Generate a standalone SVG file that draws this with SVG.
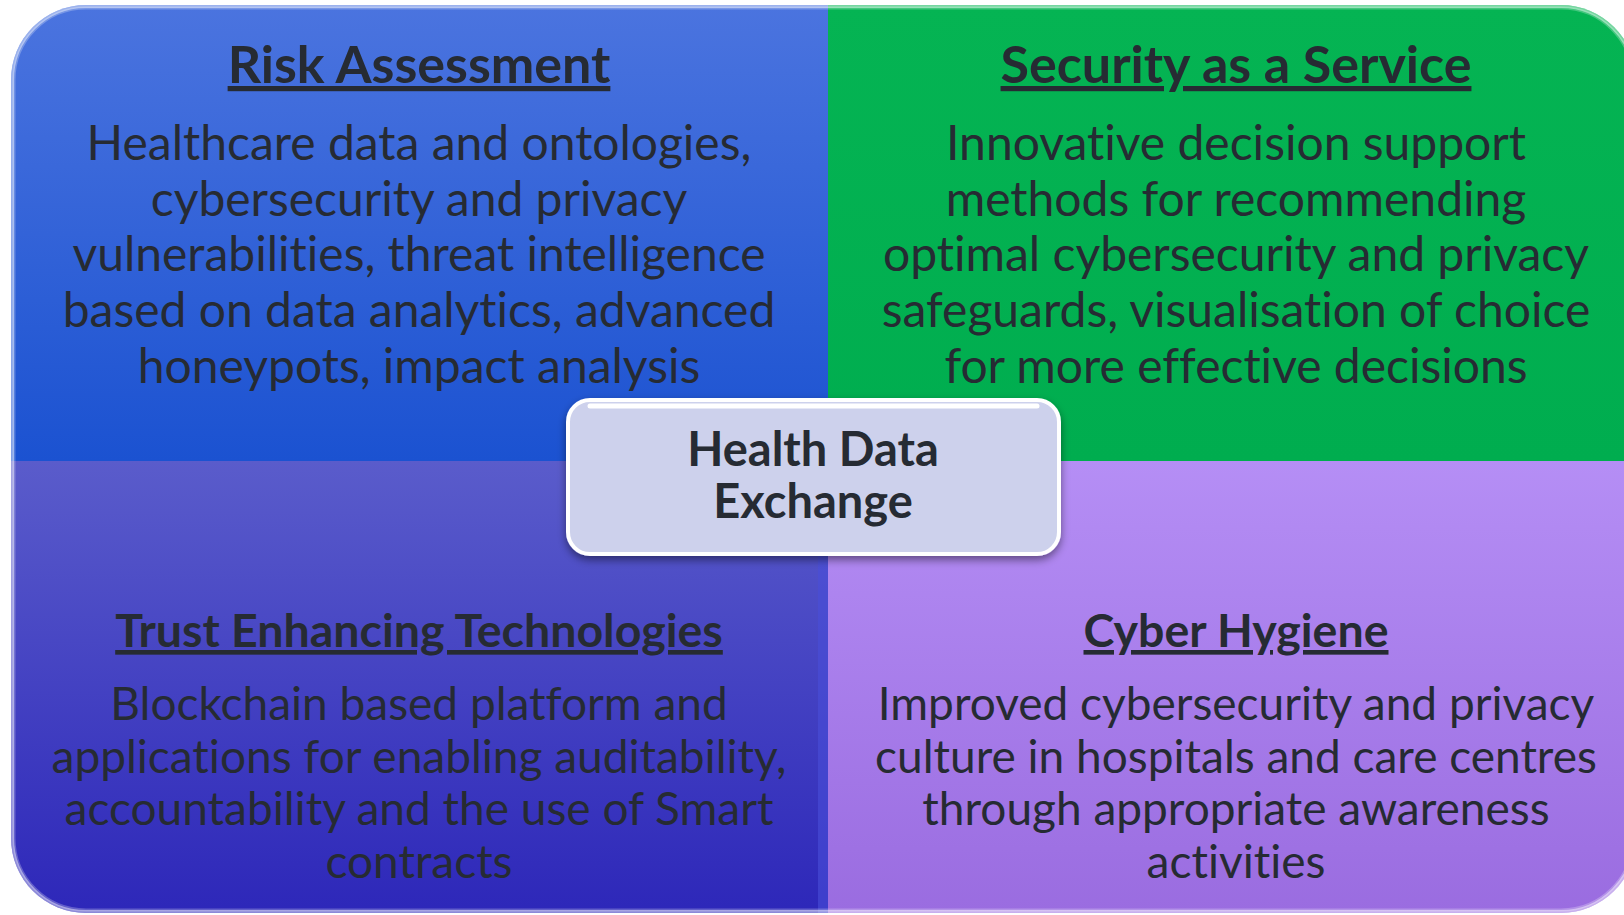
<svg xmlns="http://www.w3.org/2000/svg" width="1624" height="915" viewBox="0 0 1624 915">
<defs>
<linearGradient id="gTL" x1="0" y1="0" x2="0" y2="1"><stop offset="0" stop-color="#4b74df"/><stop offset="1" stop-color="#1b52d1"/></linearGradient>
<linearGradient id="gTR" x1="0" y1="0" x2="0" y2="1"><stop offset="0" stop-color="#05b453"/><stop offset="1" stop-color="#00ad4f"/></linearGradient>
<linearGradient id="gBL" x1="0" y1="0" x2="0" y2="1"><stop offset="0" stop-color="#5a5ccb"/><stop offset="1" stop-color="#2d27b9"/></linearGradient>
<linearGradient id="gBR" x1="0" y1="0" x2="0" y2="1"><stop offset="0" stop-color="#b58ef5"/><stop offset="1" stop-color="#9a6ce0"/></linearGradient>
<clipPath id="outer"><rect x="11" y="5" width="1625" height="908" rx="75" ry="75"/></clipPath>
<filter id="sh" x="-10%" y="-20%" width="120%" height="150%"><feDropShadow dx="0" dy="4" stdDeviation="4" flood-color="#000" flood-opacity="0.45"/></filter>
<style>
.t{font-family:Lato,"Open Sans",sans-serif;fill:#262b33;text-anchor:middle;font-variant-ligatures:none}
.h{font-weight:bold;text-decoration:underline}
.h1{font-size:52px}
.h2{font-size:46.5px}
.b1{font-size:48px}
.b2{font-size:46px}
.c{font-size:47px;font-weight:bold}
</style>
</defs>
<g clip-path="url(#outer)">
<g id="q-risk"><rect x="11" y="5" width="817" height="456" fill="url(#gTL)"/></g>
<g id="q-saas"><rect x="828" y="5" width="810" height="456" fill="url(#gTR)"/></g>
<g id="q-trust"><rect x="11" y="461" width="817" height="454" fill="url(#gBL)"/><rect x="818" y="461" width="10" height="454" fill="#4a4ed8" opacity="0.6"/></g>
<g id="q-hygiene"><rect x="828" y="461" width="810" height="454" fill="url(#gBR)"/></g>
<rect x="11" y="5" width="1625" height="908" rx="75" ry="75" fill="none" stroke="#ffffff" stroke-opacity="0.45" stroke-width="6"/>
<rect x="14" y="8" width="1619" height="902" rx="72" ry="72" fill="none" stroke="#ffffff" stroke-opacity="0.25" stroke-width="3"/>
</g>
<g id="connectors"></g>
<g id="t-risk">
<text class="t h h1" x="419" y="83">Risk Assessment</text>
<text class="t b1" x="419" y="160">Healthcare data and ontologies,</text>
<text class="t b1" x="419" y="216">cybersecurity and privacy</text>
<text class="t b1" x="419" y="271">vulnerabilities, threat intelligence</text>
<text class="t b1" x="419" y="327">based on data analytics, advanced</text>
<text class="t b1" x="419" y="383">honeypots, impact analysis</text>
</g>
<g id="t-saas">
<text class="t h h1" x="1236" y="83">Security as a Service</text>
<text class="t b1" x="1236" y="160">Innovative decision support</text>
<text class="t b1" x="1236" y="216">methods for recommending</text>
<text class="t b1" x="1236" y="271">optimal cybersecurity and privacy</text>
<text class="t b1" x="1236" y="327">safeguards, visualisation of choice</text>
<text class="t b1" x="1236" y="383">for more effective decisions</text>
</g>
<g id="t-trust">
<text class="t h h2" x="419" y="647">Trust Enhancing Technologies</text>
<text class="t b2" x="419" y="720">Blockchain based platform and</text>
<text class="t b2" x="419" y="773">applications for enabling auditability,</text>
<text class="t b2" x="419" y="825">accountability and the use of Smart</text>
<text class="t b2" x="419" y="878">contracts</text>
</g>
<g id="t-hygiene">
<text class="t h h2" x="1236" y="647">Cyber Hygiene</text>
<text class="t b2" x="1236" y="720">Improved cybersecurity and privacy</text>
<text class="t b2" x="1236" y="773">culture in hospitals and care centres</text>
<text class="t b2" x="1236" y="825">through appropriate awareness</text>
<text class="t b2" x="1236" y="878">activities</text>
</g>
<g id="center">
<rect x="568" y="400" width="491" height="154" rx="22" ry="22" fill="#cdd1ec" stroke="#ffffff" stroke-width="4" filter="url(#sh)"/>
<path d="M590 406 H1037" stroke="#ffffff" stroke-width="5" stroke-linecap="round"/>
<text class="t c" x="813" y="466">Health Data</text>
<text class="t c" x="813" y="518">Exchange</text>
</g>
</svg>
